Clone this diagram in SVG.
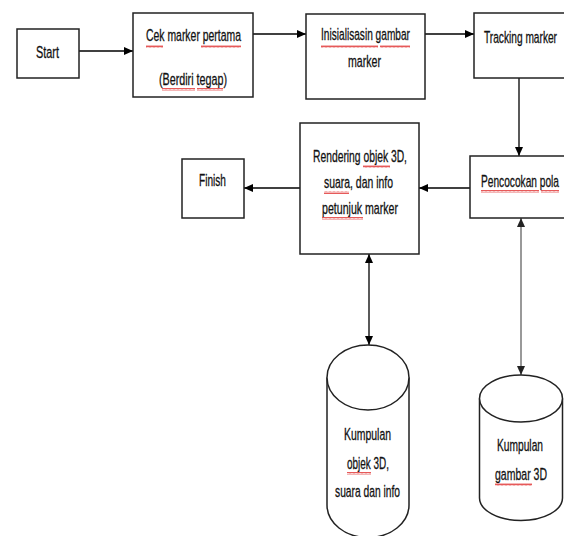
<svg xmlns="http://www.w3.org/2000/svg" width="564" height="536" viewBox="0 0 564 536">
<defs>
<marker id="ah" markerUnits="userSpaceOnUse" markerWidth="10" markerHeight="8" refX="9" refY="4" orient="auto-start-reverse">
<path d="M0,0 L9,4 L0,8 Z" fill="#000"/>
</marker>
<marker id="ahg" markerUnits="userSpaceOnUse" markerWidth="10" markerHeight="8" refX="9" refY="4" orient="auto-start-reverse">
<path d="M0,0 L9,4 L0,8 Z" fill="#222"/>
</marker>
<pattern id="wave" width="4" height="3" patternUnits="userSpaceOnUse">
<path d="M0,2.5 L1,0.5 L2,2.5 L3,0.5 L4,2.5" fill="none" stroke="#e03030" stroke-width="0.8"/>
</pattern>
</defs>
<style>
.box{fill:#fff;stroke:#222;stroke-width:1.5}
.cyl{fill:#fff;stroke:#222;stroke-width:1.5}
.t{font-family:"Liberation Sans",Arial,sans-serif;font-size:16.5px;fill:#111;stroke:#111;stroke-width:0.3}
.c{fill:none;stroke:#000;stroke-width:1.3}
.cg{fill:none;stroke:#777;stroke-width:1.5}
.w{fill:url(#wave)}
</style>
<rect width="564" height="536" fill="#fff"/>

<g id="connectors">
<line class="c" x1="79" y1="51" x2="133" y2="51" marker-end="url(#ah)"/>
<line class="c" x1="253" y1="34" x2="306" y2="34" marker-end="url(#ah)"/>
<line class="c" x1="425" y1="34" x2="474" y2="34" marker-end="url(#ah)"/>
<line class="c" x1="519" y1="78" x2="519" y2="156" marker-end="url(#ah)"/>
<line class="c" x1="470" y1="188" x2="419" y2="188" marker-end="url(#ah)"/>
<line class="c" x1="300" y1="188" x2="244" y2="188" marker-end="url(#ah)"/>
<line class="c" x1="369" y1="254" x2="369" y2="345" marker-start="url(#ah)" marker-end="url(#ah)"/>
<line class="cg" x1="521" y1="218" x2="521" y2="375" marker-start="url(#ahg)" marker-end="url(#ahg)"/>
</g>

<g id="start">
<rect class="box" x="17" y="29" width="62" height="49"/>
<text class="t" transform="matrix(0.66,0,0,1,36,58)" x="0" y="0" textLength="34.8" lengthAdjust="spacingAndGlyphs">Start</text>
</g>

<g id="cek">
<rect class="box" x="133" y="13" width="120" height="84"/>
<text class="t" transform="matrix(0.66,0,0,1,146,41)" x="0" y="0" textLength="143.9" lengthAdjust="spacingAndGlyphs">Cek marker pertama</text>
<text class="t" transform="matrix(0.66,0,0,1,159,85)" x="0" y="0" textLength="103" lengthAdjust="spacingAndGlyphs">(Berdiri tegap)</text>
<rect class="w" x="146" y="45" width="17" height="3"/>
<rect class="w" x="201" y="45" width="40" height="3"/>
<rect class="w" x="162" y="88" width="33" height="3"/>
<rect class="w" x="197" y="88" width="26" height="3"/>
</g>

<g id="inisialisasi">
<rect class="box" x="306" y="14" width="119" height="85"/>
<text class="t" transform="matrix(0.66,0,0,1,321,40)" x="0" y="0" textLength="134.8" lengthAdjust="spacingAndGlyphs">Inisialisasin gambar</text>
<text class="t" transform="matrix(0.66,0,0,1,348,67)" x="0" y="0" textLength="50" lengthAdjust="spacingAndGlyphs">marker</text>
<rect class="w" x="321" y="45" width="57" height="3"/>
<rect class="w" x="380" y="45" width="30" height="3"/>
</g>

<g id="tracking">
<rect class="box" x="474" y="13" width="100" height="65"/>
<text class="t" transform="matrix(0.66,0,0,1,484,43)" x="0" y="0" textLength="110.6" lengthAdjust="spacingAndGlyphs">Tracking marker</text>
</g>

<g id="pencocokan">
<rect class="box" x="470" y="156" width="100" height="62"/>
<text class="t" transform="matrix(0.66,0,0,1,481,187)" x="0" y="0" textLength="118.2" lengthAdjust="spacingAndGlyphs">Pencocokan pola</text>
<rect class="w" x="481" y="190" width="58" height="3"/>
<rect class="w" x="541" y="190" width="18" height="3"/>
</g>

<g id="rendering">
<rect class="box" x="300" y="123" width="119" height="131"/>
<text class="t" transform="matrix(0.66,0,0,1,313,162)" x="0" y="0" textLength="142.4" lengthAdjust="spacingAndGlyphs">Rendering objek 3D,</text>
<text class="t" transform="matrix(0.66,0,0,1,324,188)" x="0" y="0" textLength="104.5" lengthAdjust="spacingAndGlyphs">suara, dan info</text>
<text class="t" transform="matrix(0.66,0,0,1,322,214)" x="0" y="0" textLength="115.2" lengthAdjust="spacingAndGlyphs">petunjuk marker</text>
<rect class="w" x="363" y="165" width="27" height="3"/>
<rect class="w" x="324" y="191" width="25" height="3"/>
<rect class="w" x="322" y="217" width="41" height="3"/>
</g>

<g id="finish">
<rect class="box" x="182" y="159" width="62" height="59"/>
<text class="t" transform="matrix(0.66,0,0,1,199,186)" x="0" y="0" textLength="40.9" lengthAdjust="spacingAndGlyphs">Finish</text>
</g>

<g id="db-objek">
<path class="cyl" d="M327,377.5 L327,505 A41,32.5 0 0 0 409,505 L409,377.5"/>
<ellipse class="cyl" cx="368" cy="377.5" rx="41" ry="32.5"/>
<text class="t" transform="matrix(0.66,0,0,1,344,440)" x="0" y="0" textLength="71.2" lengthAdjust="spacingAndGlyphs">Kumpulan</text>
<text class="t" transform="matrix(0.66,0,0,1,347,469)" x="0" y="0" textLength="63.6" lengthAdjust="spacingAndGlyphs">objek 3D,</text>
<text class="t" transform="matrix(0.66,0,0,1,335,497)" x="0" y="0" textLength="98.5" lengthAdjust="spacingAndGlyphs">suara dan info</text>
<rect class="w" x="347" y="472" width="24" height="3"/>
</g>

<g id="db-gambar">
<path class="cyl" d="M479.5,398.5 L479.5,498 A41.5,22.5 0 0 0 562.5,498 L562.5,398.5"/>
<ellipse class="cyl" cx="521" cy="398.5" rx="41.5" ry="23.5"/>
<text class="t" transform="matrix(0.66,0,0,1,497,451)" x="0" y="0" textLength="69.7" lengthAdjust="spacingAndGlyphs">Kumpulan</text>
<text class="t" transform="matrix(0.66,0,0,1,495,480)" x="0" y="0" textLength="78.8" lengthAdjust="spacingAndGlyphs">gambar 3D</text>
<rect class="w" x="495" y="483" width="37" height="3"/>
</g>
</svg>
